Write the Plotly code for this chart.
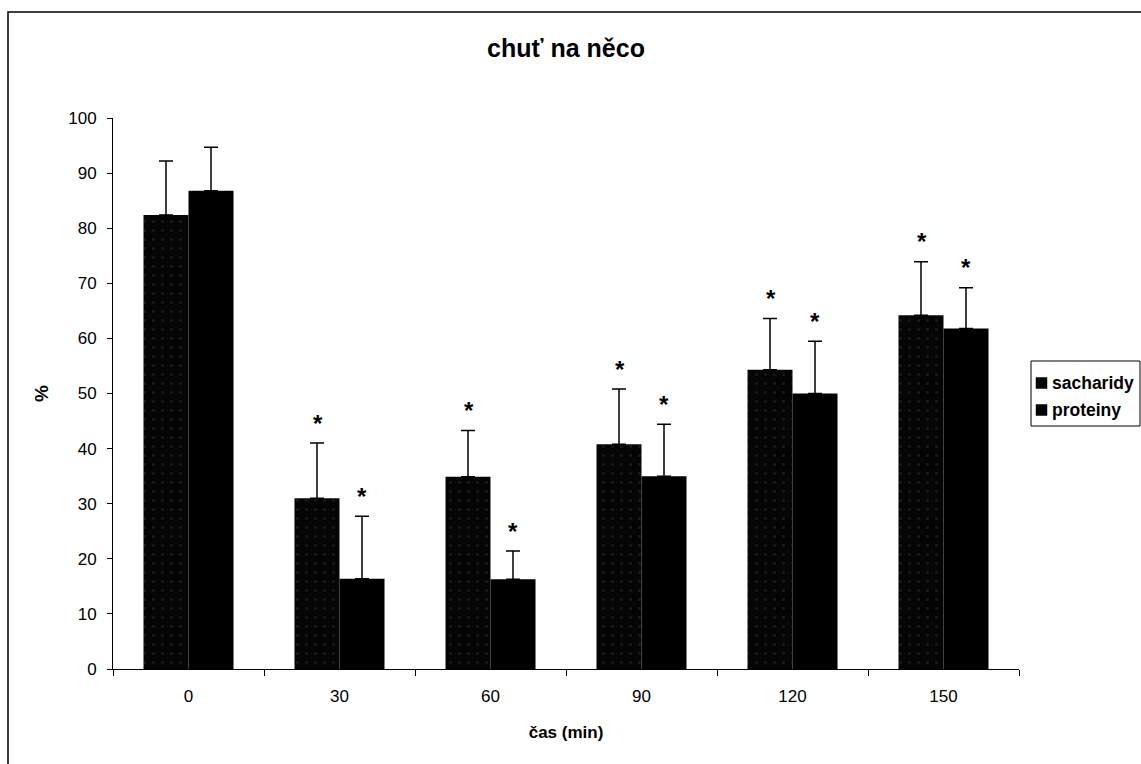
import plotly.graph_objects as go

# Time points (minutes) and mean craving scores (%) with upper error (SD)
times = ["0", "30", "60", "90", "120", "150"]
sacharidy = [82.4, 31.0, 34.9, 40.8, 54.3, 64.2]
sacharidy_err = [9.8, 10.0, 8.4, 10.0, 9.3, 9.7]
proteiny = [86.8, 16.4, 16.3, 35.0, 50.0, 61.8]
proteiny_err = [7.9, 11.3, 5.1, 9.4, 9.5, 7.4]
# significance markers per time point (sacharidy, proteiny)
sig_sach = ["", "*", "*", "*", "*", "*"]
sig_prot = ["", "*", "*", "*", "*", "*"]

FONT = "Liberation Sans, Arial, sans-serif"

# plot-area geometry in pixels
W, H = 1141, 764
L, R, T, B = 113, 122, 118, 95
PW, PH = W - L - R, H - T - B


def px_x(px):
    return (px - L) / PW


def px_y(py):
    return (H - B - py) / PH


fig = go.Figure()
fig.add_trace(go.Bar(
    name="sacharidy", x=times, y=sacharidy,
    marker=dict(color="#050505", line=dict(width=0),
                pattern=dict(shape=".", fgcolor="#2e2e2e", bgcolor="#050505",
                             size=9, solidity=0.08)),
    error_y=dict(type="data", array=sacharidy_err, symmetric=False,
                 arrayminus=[0] * len(times), color="black", thickness=1.5, width=7),
    showlegend=False,
))
fig.add_trace(go.Bar(
    name="proteiny", x=times, y=proteiny,
    marker=dict(color="black", line=dict(width=0)),
    error_y=dict(type="data", array=proteiny_err, symmetric=False,
                 arrayminus=[0] * len(times), color="black", thickness=1.5, width=7),
    showlegend=False,
))

annotations = []
# asterisks above the error bars, offset to each bar of the pair
for i, t in enumerate(times):
    for vals, errs, sig, shift in ((sacharidy, sacharidy_err, sig_sach, -22),
                                   (proteiny, proteiny_err, sig_prot, 22)):
        if sig[i]:
            annotations.append(dict(
                x=i, y=vals[i] + errs[i], xref="x", yref="y", text=f"<b>{sig[i]}</b>",
                showarrow=False, xshift=shift, yshift=20, yanchor="middle",
                font=dict(family=FONT, size=24, color="black"),
            ))

# legend drawn by hand: framed box with square swatches
legend_items = [("sacharidy", "#050505"), ("proteiny", "black")]
shapes = [
    dict(type="rect", xref="paper", yref="paper",
         x0=px_x(8), x1=px_x(1300), y0=px_y(900), y1=px_y(12),
         line=dict(color="black", width=1.5), fillcolor="rgba(0,0,0,0)", layer="below"),
    dict(type="rect", xref="paper", yref="paper",
         x0=px_x(1031), x1=px_x(1140), y0=px_y(426), y1=px_y(361),
         line=dict(color="black", width=1), fillcolor="white"),
]
for k, (name, col) in enumerate(legend_items):
    cy = 383 + 27 * k
    shapes.append(dict(type="rect", xref="paper", yref="paper",
                       x0=px_x(1036), x1=px_x(1047), y0=px_y(cy + 5.5), y1=px_y(cy - 5.5),
                       line=dict(color="black", width=0.5), fillcolor=col))
    annotations.append(dict(x=px_x(1050), y=px_y(cy), xref="paper", yref="paper",
                            text=f"<b>{name}</b>", showarrow=False,
                            xanchor="left", yanchor="middle",
                            font=dict(family=FONT, size=17.5, color="black")))

fig.update_layout(
    width=W, height=H,
    margin=dict(l=L, r=R, t=T, b=B),
    paper_bgcolor="white", plot_bgcolor="white",
    barmode="group", bargap=0.404, bargroupgap=0,
    font=dict(family=FONT, size=17, color="black"),
    title=dict(text="<b>chuť na něco</b>", x=0.5, xref="paper", xanchor="center",
               y=1 - 48 / H, yref="container", yanchor="middle",
               font=dict(family=FONT, size=25, color="black")),
    xaxis=dict(type="category", range=[-0.5, 5.5], showline=True, linecolor="black",
               linewidth=1, ticks="outside", tickson="boundaries", ticklen=6,
               tickcolor="black", showgrid=False, ticklabelstandoff=12, tickangle=0,
               title=dict(text="<b>čas (min)</b>", standoff=20,
                          font=dict(family=FONT, size=17))),
    yaxis=dict(range=[0, 100], dtick=10, showline=True, linecolor="black", linewidth=1,
               ticks="outside", ticklen=5, tickcolor="black", showgrid=False,
               zeroline=False, ticklabelstandoff=7,
               title=dict(text="<b>%</b>", standoff=14, font=dict(family=FONT, size=19))),
    shapes=shapes,
    annotations=annotations,
)

fig.write_html("out.html")
